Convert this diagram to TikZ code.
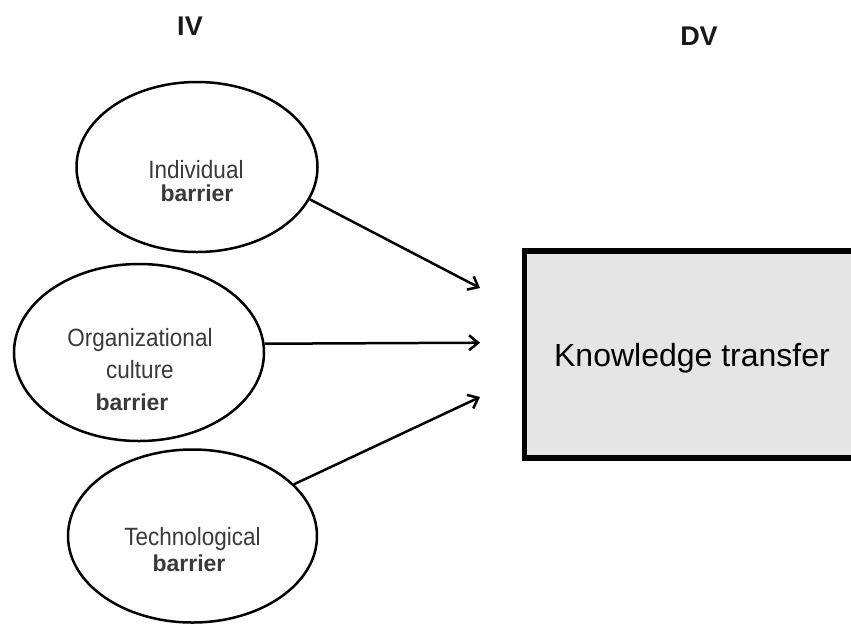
\documentclass[tikz,border=0pt]{standalone}
\usepackage{fontspec}
\setmainfont{Liberation Sans}
\newfontfamily\narrowf[FakeStretch=0.9]{Liberation Sans}
\usetikzlibrary{arrows.meta,shapes.geometric}
\definecolor{txtgray}{HTML}{3A3A3A}
\definecolor{boxfill}{HTML}{E5E5E5}
\tikzset{
  oval/.style={draw=black, line width=2.5pt, ellipse, inner sep=0pt},
  thin lbl/.style={font=\narrowf\fontsize{25}{25}\selectfont, text=txtgray, anchor=base, inner sep=0pt},
  bold lbl/.style={font=\bfseries\fontsize{23}{23}\selectfont, text=txtgray, anchor=base, inner sep=0pt},
  head/.style={font=\bfseries\fontsize{27}{27}\selectfont, text=black!90, inner sep=0pt},
  conn/.style={line width=2.5pt, -{Straight Barb[length=9pt,width=15pt,line width=2.5pt]}},
  dvbox/.style={draw=black, line width=5.5pt, fill=boxfill, rectangle, inner sep=0pt}
}
\begin{document}
\begin{tikzpicture}[x=1pt,y=-1pt]
\useasboundingbox (0,0) rectangle (851,625);
\clip (0,0) rectangle (851,625);
\fill[white] (0,0) rectangle (851,625);
% headings
\node[head] (iv) at (190,26) {IV};
\node[head] (dv) at (699,36) {DV};
% ellipses
\node[oval, minimum width=241pt, minimum height=170pt] (e1) at (197,167) {};
\node[oval, minimum width=250pt, minimum height=177pt] (e2) at (139,352.5) {};
\node[oval, minimum width=249pt, minimum height=173pt] (e3) at (192.5,536) {};
% ellipse texts
\node[thin lbl] (t1a) at (196,178) {Individual};
\node[bold lbl] (t1b) at (197,201.5) {barrier};
\node[thin lbl] (t2a) at (140,346) {Organizational};
\node[thin lbl] (t2b) at (140,378) {culture};
\node[bold lbl] (t2c) at (132,410) {barrier};
\node[thin lbl] (t3a) at (192.5,545) {Technological};
\node[bold lbl] (t3b) at (189,571) {barrier};
% dependent variable box
\node[dvbox, minimum width=335.5pt, minimum height=207pt] (kt) at (692.25,354.5) {};
\node[font=\fontsize{32}{32}\selectfont, anchor=base, inner sep=0pt] (ktt) at (692,366) {Knowledge transfer};
% arrow ends
\coordinate (p1) at (480,288);
\coordinate (p2) at (480,342.7);
\coordinate (p3) at (480,397);
\draw[conn] (e1.-16.5) -- (p1);
\draw[conn] (e2.4.5) -- (p2);
\draw[conn] (e3.27) -- (p3);
\end{tikzpicture}
\end{document}
